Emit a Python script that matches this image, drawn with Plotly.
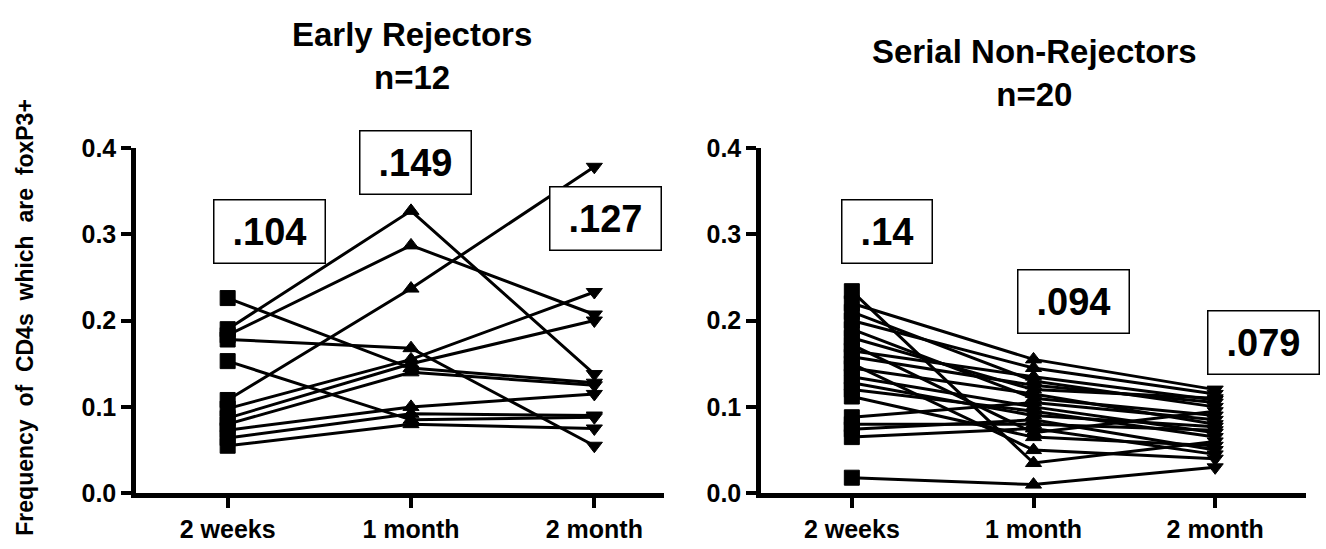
import plotly.graph_objects as go

categories = ["2 weeks", "1 month", "2 month"]

# Early Rejectors (n=12): frequency at 2 weeks, 1 month, 2 month
er_2wk = [0.226, 0.190, 0.183, 0.108, 0.153, 0.178, 0.098, 0.087, 0.080, 0.073, 0.064, 0.055]
er_1mo = [0.145, 0.327, 0.287, 0.237, 0.085, 0.168, 0.155, 0.150, 0.140, 0.100, 0.092, 0.080]
er_2mo = [0.128, 0.138, 0.207, 0.378, 0.088, 0.055, 0.233, 0.200, 0.125, 0.115, 0.090, 0.075]

# Serial Non-Rejectors (n=20)
snr_2wk = [0.234, 0.220, 0.210, 0.200, 0.190, 0.180, 0.172, 0.165, 0.158, 0.150,
           0.145, 0.135, 0.128, 0.120, 0.112, 0.088, 0.080, 0.074, 0.065, 0.018]
snr_1mo = [0.035, 0.155, 0.130, 0.145, 0.110, 0.120, 0.070, 0.135, 0.125, 0.050,
           0.115, 0.100, 0.090, 0.095, 0.065, 0.105, 0.080, 0.085, 0.075, 0.010]
snr_2mo = [0.060, 0.120, 0.100, 0.115, 0.090, 0.110, 0.095, 0.108, 0.105, 0.040,
           0.080, 0.070, 0.077, 0.065, 0.055, 0.085, 0.073, 0.050, 0.045, 0.030]

mean_labels_er = [".104", ".149", ".127"]
mean_labels_snr = [".14", ".094", ".079"]
y_ticks = [0.0, 0.1, 0.2, 0.3, 0.4]
y_ticktext = ["0.0", "0.1", "0.2", "0.3", "0.4"]

FONT = "Arial, Liberation Sans, sans-serif"
W, H = 1326, 549
symbols = ["square", "triangle-up", "triangle-down"]

fig = go.Figure()

def add_group(a, b, c, xa, ya):
    for v0, v1, v2 in zip(a, b, c):
        fig.add_trace(go.Scatter(
            x=[0, 1, 2], y=[v0, v1, v2], mode="lines+markers",
            line=dict(color="black", width=3),
            marker=dict(symbol=symbols, size=[15, 14, 14], color="black",
                        opacity=1, line=dict(width=1, color="black")),
            xaxis=xa, yaxis=ya, showlegend=False, hoverinfo="skip"))

add_group(er_2wk, er_1mo, er_2mo, "x", "y")
add_group(snr_2wk, snr_1mo, snr_2mo, "x2", "y2")

ydom = [1 - 505 / H, 1 - 141 / H]
axis_common = dict(showline=True, linecolor="black", linewidth=4.5,
                   ticks="outside", ticklen=10, tickwidth=4, tickcolor="black",
                   showgrid=False, zeroline=False,
                   tickfont=dict(family=FONT, size=25, color="black", weight="bold"))

fig.update_layout(
    width=W, height=H, margin=dict(l=0, r=0, t=0, b=0),
    paper_bgcolor="white", plot_bgcolor="white",
    xaxis=dict(domain=[136 / W, 664 / W], range=[-0.5, 2.38],
               tickvals=[0, 1, 2], ticktext=categories, anchor="y", **axis_common),
    yaxis=dict(domain=ydom, range=[0, 0.4], tickvals=y_ticks, ticktext=y_ticktext,
               anchor="x", **axis_common),
    xaxis2=dict(domain=[761 / W, 1306 / W], range=[-0.5, 2.5],
                tickvals=[0, 1, 2], ticktext=categories, anchor="y2", **axis_common),
    yaxis2=dict(domain=ydom, range=[0, 0.4], tickvals=y_ticks, ticktext=y_ticktext,
                anchor="x2", **axis_common),
)

anns = []
# titles
anns.append(dict(text="Early Rejectors<br>n=12", x=412 / W, y=1 - 44.5 / H,
                 xref="paper", yref="paper", xanchor="center", yanchor="middle",
                 showarrow=False,
                 font=dict(family=FONT, size=33, color="black", weight="bold")))
anns.append(dict(text="Serial Non-Rejectors<br>n=20", x=1034 / W, y=1 - 62.5 / H,
                 xref="paper", yref="paper", xanchor="center", yanchor="middle",
                 showarrow=False,
                 font=dict(family=FONT, size=33, color="black", weight="bold")))
# y-axis label
sp = "\u00a0\u00a0"
anns.append(dict(text=sp.join(["Frequency", "of", "CD4s", "which", "are", "foxP3+"]),
                 x=25 / W, y=1 - 320 / H, xref="paper", yref="paper",
                 xanchor="center", yanchor="middle", textangle=-90, showarrow=False,
                 font=dict(family=FONT, size=23, color="black", weight="bold")))
# mean boxes
box_pos = [((269, 229.5), 106), ((415, 156), 106), ((605, 215), 106),
           ((887.5, 229.5), 85), ((1073, 302.5), 106), ((1263.5, 346), 106)]
for lab, ((cx, cy), bw) in zip(mean_labels_er + mean_labels_snr, box_pos):
    anns.append(dict(text=lab, x=cx / W, y=1 - cy / H, xref="paper", yref="paper",
                     xanchor="center", yanchor="middle", showarrow=False,
                     width=bw, height=58, borderpad=2, bordercolor="black",
                     borderwidth=1.5, bgcolor="white", align="center",
                     font=dict(family=FONT, size=38, color="black", weight="bold")))
fig.update_layout(annotations=anns)

fig.write_html("out.html")
